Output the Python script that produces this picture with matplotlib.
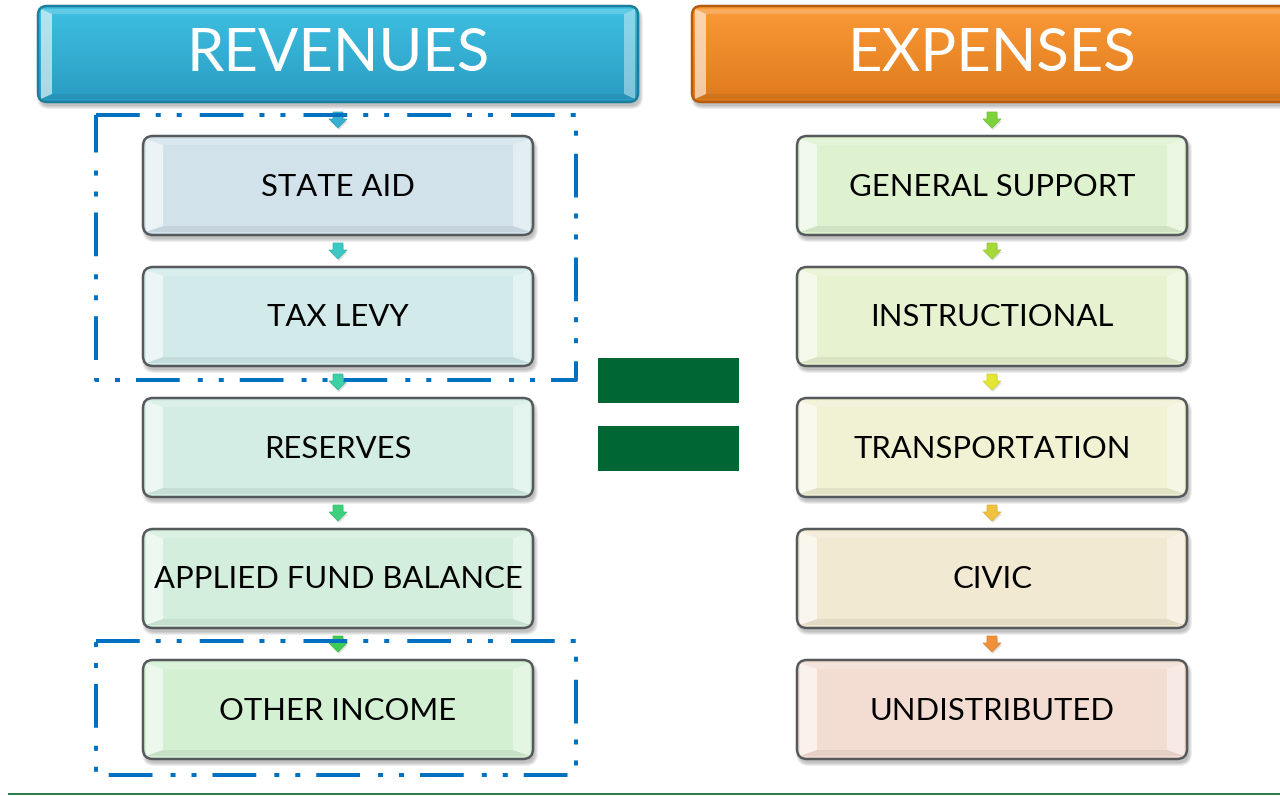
import matplotlib
matplotlib.use("Agg")
import matplotlib.pyplot as plt
import numpy as np
from matplotlib.patches import FancyBboxPatch, Polygon, Rectangle
from matplotlib.colors import to_rgb

plt.rcParams['font.family'] = ['Lato', 'DejaVu Sans']
plt.rcParams['lines.scale_dashes'] = False

# ---- content ----
header_labels = ["REVENUES", "EXPENSES"]
header_top_colors = ["#3ec0e2", "#fb9a38"]
header_bottom_colors = ["#2a9cc2", "#de7a1c"]
header_edge_colors = ["#1d7d9c", "#b35c0e"]

revenue_labels = ["STATE AID", "TAX LEVY", "RESERVES", "APPLIED FUND BALANCE", "OTHER INCOME"]
revenue_colors = ["#d2e2ea", "#d2eaea", "#d3ede4", "#d3eedc", "#d3f0d3"]
revenue_arrow_colors = ["#38afd0", "#3cc8c4", "#3dcfa6", "#3fd07e", "#3fcc52"]

expense_labels = ["GENERAL SUPPORT", "INSTRUCTIONAL", "TRANSPORTATION", "CIVIC", "UNDISTRIBUTED"]
expense_colors = ["#def2d0", "#e7f2d0", "#f1f1d3", "#f2e9d3", "#f3ddd3"]
expense_arrow_colors = ["#7ed23a", "#a6d83a", "#e4e632", "#f0c23e", "#f0903a"]

W, H = 1280, 796
fig = plt.figure(figsize=(W / 100, H / 100), dpi=100)
ax = fig.add_axes([0, 0, 1, 1])
ax.set_xlim(0, W)
ax.set_ylim(H, 0)
ax.axis('off')

PT = 0.72  # points per pixel


def darken(c, f):
    r = np.array(to_rgb(c))
    return tuple(r * (1 - f))


def shadow(x0, y0, w, h, r, z):
    for i in range(4):
        s = FancyBboxPatch((x0 + 2 - i, y0 + 4 - i), w + 2 * i, h + 2 * i,
                           boxstyle=f"round,pad=0,rounding_size={r + i}",
                           fc='black', ec='none', alpha=0.065, zorder=z)
        ax.add_patch(s)


def bevel_box(x0, y0, w, h, face, label, fs, z=3, txtcolor='black', edge='#55595c',
              top=None, bottom=None, r=10, bw=20, bh=9):
    shadow(x0, y0, w, h, r, z - 0.5)
    patch = FancyBboxPatch((x0, y0), w, h, boxstyle=f"round,pad=0,rounding_size={r}",
                           fc=face, ec='none', zorder=z)
    ax.add_patch(patch)
    if top is not None:
        grad = np.linspace(0, 1, 100)[:, None]
        c1 = np.array(to_rgb(top)); c2 = np.array(to_rgb(bottom))
        img = c1[None, None, :] * (1 - grad[..., None]) + c2[None, None, :] * grad[..., None]
        im = ax.imshow(img, extent=(x0, x0 + w, y0 + h, y0), aspect='auto', zorder=z + 0.1,
                       interpolation='bilinear')
        im.set_clip_path(patch)
    x1, y1 = x0 + w, y0 + h
    ix0, iy0, ix1, iy1 = x0 + bw, y0 + bh, x1 - bw, y1 - bh
    o = 3
    ax.add_patch(Polygon([(x0 + o, y0 + o), (ix0, iy0), (ix0, iy1), (x0 + o, y1 - o)],
                         closed=True, fc='white', ec='none', alpha=0.6, zorder=z + 0.2))
    ax.add_patch(Polygon([(x1 - o, y0 + o), (ix1, iy0), (ix1, iy1), (x1 - o, y1 - o)],
                         closed=True, fc='white', ec='none', alpha=0.4, zorder=z + 0.2))
    ax.add_patch(Polygon([(x0 + o, y0 + o), (x1 - o, y0 + o), (ix1, iy0), (ix0, iy0)],
                         closed=True, fc='white', ec='none', alpha=0.2, zorder=z + 0.2))
    ax.add_patch(Polygon([(x0 + o, y1 - o), (x1 - o, y1 - o), (ix1, iy1), (ix0, iy1)],
                         closed=True, fc='black', ec='none', alpha=0.06, zorder=z + 0.2))
    border = FancyBboxPatch((x0, y0), w, h, boxstyle=f"round,pad=0,rounding_size={r}",
                            fc='none', ec=edge, lw=1.8, zorder=z + 0.3)
    ax.add_patch(border)
    if label:
        ax.text(x0 + w / 2, y0 + h / 2 + 1, label, ha='center', va='center', fontsize=fs,
                color=txtcolor, zorder=z + 0.5)


def down_arrow(xc, ytop, color, z=6):
    pts = [(xc - 5, ytop), (xc + 5, ytop), (xc + 5, ytop + 7), (xc + 9, ytop + 7),
           (xc, ytop + 16), (xc - 9, ytop + 7), (xc - 5, ytop + 7)]
    ax.add_patch(Polygon([(x + 1, y + 2) for x, y in pts], closed=True, fc='black',
                         ec='none', alpha=0.12, zorder=z - 0.1))
    ax.add_patch(Polygon(pts, closed=True, fc=color, ec=darken(color, 0.1), lw=0.5, zorder=z))


# headers
bevel_box(38, 6, 600, 96, header_top_colors[0], "", 43, z=3,
          edge=header_edge_colors[0], top=header_top_colors[0], bottom=header_bottom_colors[0],
          r=9, bw=14, bh=8)
ax.text(338, 54, header_labels[0], ha='center', va='center', fontsize=43, color='white', zorder=4)
bevel_box(692, 6, 620, 96, header_top_colors[1], "", 43, z=3,
          edge=header_edge_colors[1], top=header_top_colors[1], bottom=header_bottom_colors[1],
          r=9, bw=14, bh=8)
ax.text(992, 54, header_labels[1], ha='center', va='center', fontsize=43, color='white', zorder=4)

# boxes
box_tops = [136, 267, 398, 529, 660]
box_h = 99
for i, (lab, col) in enumerate(zip(revenue_labels, revenue_colors)):
    bevel_box(143, box_tops[i], 390, box_h, col, lab, 22.3)
    down_arrow(338, box_tops[i] - 24, revenue_arrow_colors[i])
for i, (lab, col) in enumerate(zip(expense_labels, expense_colors)):
    bevel_box(797, box_tops[i], 390, box_h, col, lab, 22.3)
    down_arrow(992, box_tops[i] - 24, expense_arrow_colors[i])

# dash-dot-dot grouping rectangles
dash = (31.5, 11.5, 3.6, 11.5, 3.6, 13)
for (x0, y0, x1, y1) in [(96, 115, 576, 380), (96, 641, 576, 775)]:
    ax.plot([x0, x1, x1, x0, x0], [y0, y0, y1, y1, y0], color='#0070c0', lw=4 * PT,
            dashes=dash, solid_capstyle='butt', dash_capstyle='butt', zorder=7)

# equals sign
ax.add_patch(Rectangle((598, 358), 141, 45, fc='#006633', ec='none', zorder=5))
ax.add_patch(Rectangle((598, 426), 141, 45, fc='#006633', ec='none', zorder=5))

# bottom rule
ax.plot([9, W], [794, 794], color='#2e7d4f', lw=2 * PT, zorder=5)

fig.savefig("out.png", dpi=100)
